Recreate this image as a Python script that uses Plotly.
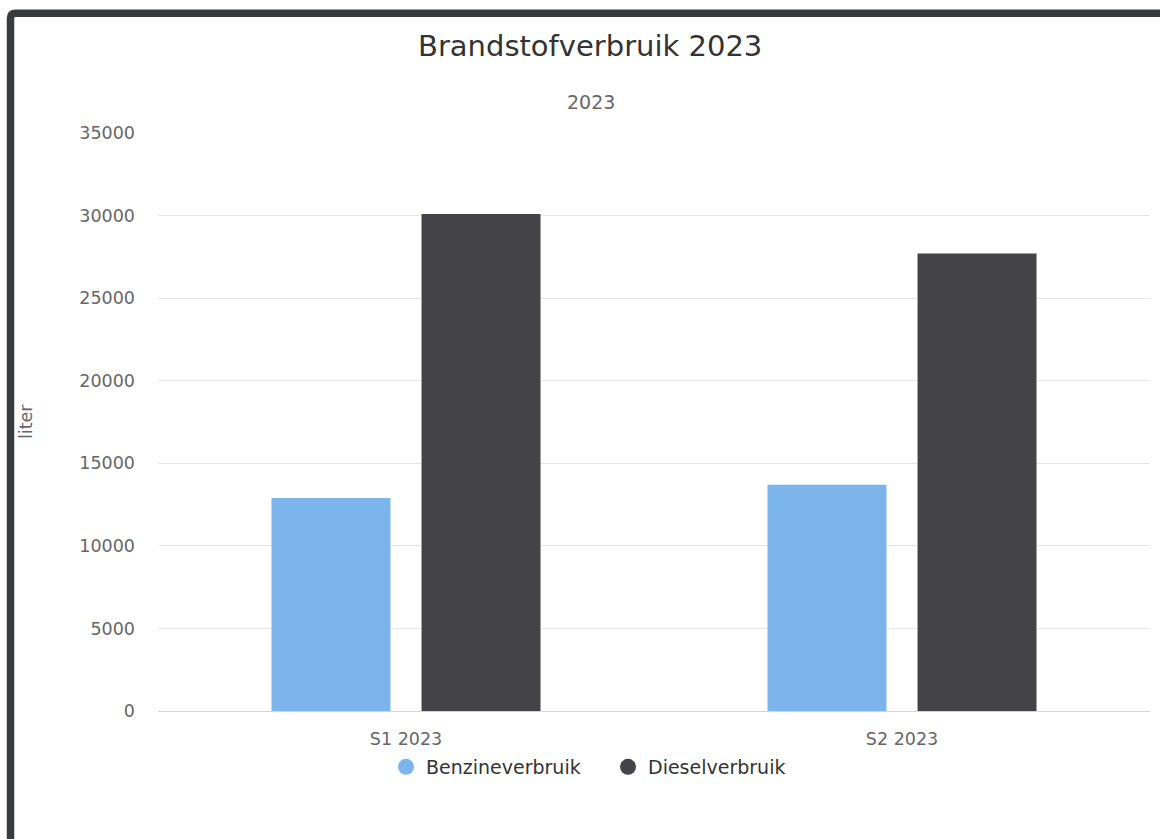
import plotly.graph_objects as go

# Fuel consumption per half-year (liters)
periods = ["S1 2023", "S2 2023"]
series_names = ["Benzineverbruik", "Dieselverbruik"]
benzine = [12900, 13700]
diesel = [30100, 27700]
y_ticks = [0, 5000, 10000, 15000, 20000, 25000, 30000, 35000]

colors = ["#7cb5ec", "#434348"]
font_family = "DejaVu Sans"

W, H = 1160, 839
ML, MR, MT, MB = 158, 10, 133, 128
PW = W - ML - MR
PH = H - MT - MB


def px_x(px):
    return (px - ML) / PW


def px_y(py):
    return (H - MB - py) / PH


fig = go.Figure()

for name, vals, col in zip(series_names, [benzine, diesel], colors):
    fig.add_trace(go.Bar(
        x=periods, y=vals, name=name, marker=dict(color=col, line=dict(width=0)),
        showlegend=False,
    ))

# circle symbols for the legend
for name, col in zip(series_names, colors):
    fig.add_trace(go.Scatter(
        x=[None], y=[None], mode="markers", name=name,
        marker=dict(symbol="circle", size=16, color=col),
    ))

# dark frame along the top and left edges
r_x = 5 / PW
r_y = 5 / PH
left = px_x(10.5)
top = px_y(13.3)
frame_path = (
    f"M 1.05,{top} L {left + r_x},{top} "
    f"Q {left},{top} {left},{top - r_y} L {left},{px_y(860)}"
)
fig.add_shape(type="path", xref="paper", yref="paper", path=frame_path,
              line=dict(color="#393c3f", width=7.5), layer="above")

fig.add_annotation(text="Brandstofverbruik 2023", xref="paper", yref="paper",
                   x=px_x(590), y=px_y(46), xanchor="center", yanchor="middle",
                   showarrow=False, font=dict(family=font_family, size=29, color="#333333"))
fig.add_annotation(text="2023", xref="paper", yref="paper",
                   x=px_x(591), y=px_y(102.5), xanchor="center", yanchor="middle",
                   showarrow=False, font=dict(family=font_family, size=19, color="#666666"))
fig.add_annotation(text="liter", xref="paper", yref="paper", textangle=-90,
                   x=px_x(25.5), y=px_y(421.5), xanchor="center", yanchor="middle",
                   showarrow=False, font=dict(family=font_family, size=17.5, color="#666666"))

fig.update_layout(
    width=W, height=H,
    margin=dict(l=ML, r=MR, t=MT, b=MB, pad=0),
    paper_bgcolor="white", plot_bgcolor="white",
    font=dict(family=font_family, color="#666666"),
    barmode="group", bargap=0.395, bargroupgap=0.207,
    showlegend=True,
    legend=dict(orientation="h", x=px_x(608), xanchor="center", y=px_y(767), yanchor="middle",
                font=dict(family=font_family, size=19, color="#333333"),
                entrywidth=177, entrywidthmode="pixels",
                bgcolor="rgba(0,0,0,0)", itemclick=False),
    xaxis=dict(showgrid=False, showline=True, linecolor="#ccd6eb", linewidth=1,
               ticks="", tickfont=dict(size=17.5, color="#666666"), ticklabelstandoff=12,
               zeroline=False),
    yaxis=dict(range=[0, 35000], tickvals=y_ticks, tickformat="d", showgrid=True,
               gridcolor="#e6e6e6", gridwidth=1, showline=False, zeroline=False, ticks="",
               tickfont=dict(size=17.5, color="#666666"), ticklabelstandoff=22),
)

fig.write_html("out.html")
